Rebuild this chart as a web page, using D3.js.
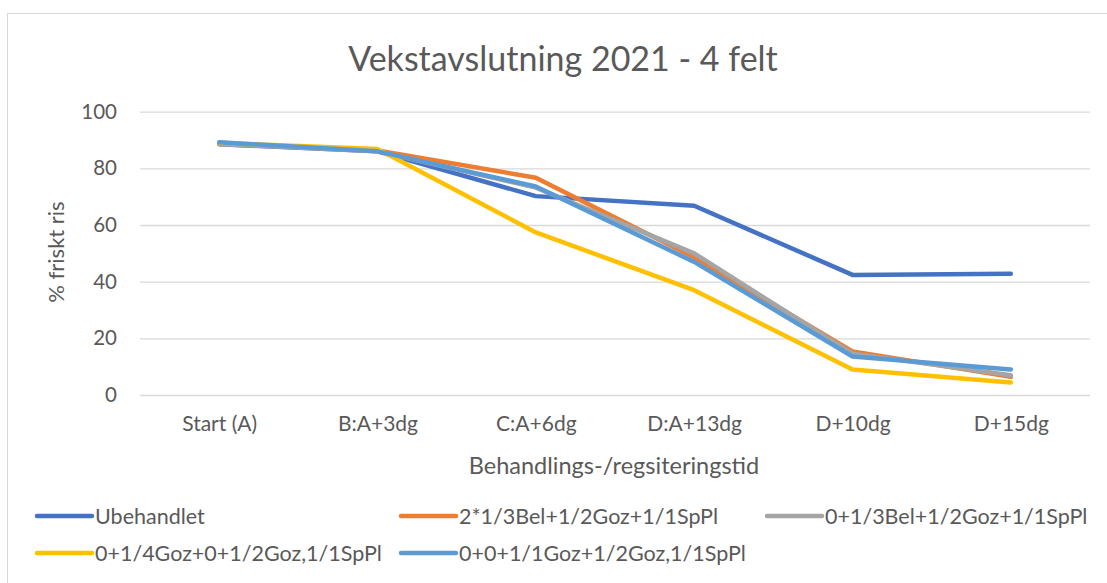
<!DOCTYPE html>
<html>
<head>
<meta charset="utf-8">
<script src="https://cdn.jsdelivr.net/npm/d3@7"></script>
<style>
  body { margin: 0; background: #fff; }
  text { font-family: Lato, "Open Sans", sans-serif; fill: #595959; }
</style>
</head>
<body>
<script>
const width = 1107;
const height = 583;

// categories (x axis)
const categories = ["Start (A)", "B:A+3dg", "C:A+6dg", "D:A+13dg", "D+10dg", "D+15dg"];

// series names, colours and values
const seriesNames = [
    "Ubehandlet",
    "2*1/3Bel+1/2Goz+1/1SpPl",
    "0+1/3Bel+1/2Goz+1/1SpPl",
    "0+1/4Goz+0+1/2Goz,1/1SpPl",
    "0+0+1/1Goz+1/2Goz,1/1SpPl"
];
const seriesColors = ["#4472C4", "#ED7D31", "#A5A5A5", "#FFC000", "#5B9BD5"];

const ubehandlet = [88.5, 86.0, 70.2, 66.8, 42.4, 42.8];
const bel2 = [88.8, 86.3, 76.7, 48.6, 15.4, 6.4];
const bel0 = [88.6, 86.0, 73.2, 50.0, 14.6, 7.0];
const goz4 = [89.0, 86.8, 57.4, 37.0, 9.0, 4.4];
const goz1 = [89.2, 86.0, 73.6, 47.0, 13.6, 9.0];

const seriesValues = [ubehandlet, bel2, bel0, goz4, goz1];

const yTicks = [0, 20, 40, 60, 80, 100];

const svg = d3.select("body").append("svg")
    .attr("width", width)
    .attr("height", height)
    .style("display", "block");

svg.append("rect")
    .attr("width", width).attr("height", height)
    .attr("fill", "#fff");

// chart border (runs off the right/bottom of the picture)
svg.append("rect")
    .attr("x", 7.5).attr("y", 13.5)
    .attr("width", width + 20).attr("height", height + 20)
    .attr("fill", "none")
    .attr("stroke", "#d9d9d9")
    .attr("stroke-width", 1);

const x = d3.scalePoint()
    .domain(categories)
    .range([140, 1090])
    .padding(0.5);

const y = d3.scaleLinear()
    .domain([0, 100])
    .range([395, 111.7]);

// title
svg.append("text")
    .attr("x", 563)
    .attr("y", 71)
    .attr("text-anchor", "middle")
    .style("font-size", "34px")
    .text("Vekstavslutning 2021 - 4 felt");

// gridlines + y labels
const yAxis = d3.axisLeft(y)
    .tickValues(yTicks)
    .tickSize(-(1090 - 140))
    .tickPadding(23);

const gy = svg.append("g")
    .attr("transform", "translate(140,0)")
    .call(yAxis);
gy.select(".domain").remove();
gy.selectAll(".tick line")
    .attr("stroke", "#d9d9d9")
    .attr("stroke-width", 1.3);
gy.selectAll(".tick text")
    .attr("font-family", null)
    .style("font-size", "20.5px");

// x labels
const xAxis = d3.axisBottom(x).tickSize(0).tickPadding(21);
const gx = svg.append("g")
    .attr("transform", "translate(0,395)")
    .call(xAxis);
gx.select(".domain").remove();
gx.selectAll(".tick text")
    .attr("font-family", null)
    .style("font-size", "21px");

// axis titles
svg.append("text")
    .attr("x", 614)
    .attr("y", 474)
    .attr("text-anchor", "middle")
    .style("font-size", "23.5px")
    .text("Behandlings-/regsiteringstid");

svg.append("text")
    .attr("transform", "translate(64,252) rotate(-90)")
    .attr("text-anchor", "middle")
    .style("font-size", "22px")
    .text("% friskt ris");

// lines
const line = d3.line()
    .x((d, i) => x(categories[i]))
    .y(d => y(d));

svg.append("g")
    .selectAll("path")
    .data(seriesValues)
    .join("path")
    .attr("d", line)
    .attr("fill", "none")
    .attr("stroke", (d, i) => seriesColors[i])
    .attr("stroke-width", 4.5)
    .attr("stroke-linejoin", "round")
    .attr("stroke-linecap", "round");

// legend
const legendPos = [[37, 516], [401, 516], [767, 516], [37, 553], [401, 553]];

const legend = svg.append("g")
    .selectAll("g")
    .data(seriesNames)
    .join("g")
    .attr("transform", (d, i) => `translate(${legendPos[i][0]},${legendPos[i][1]})`);

legend.append("line")
    .attr("x1", 0).attr("x2", 55)
    .attr("stroke", (d, i) => seriesColors[i])
    .attr("stroke-width", 4.5)
    .attr("stroke-linecap", "round");

legend.append("text")
    .attr("x", 58)
    .attr("dy", "0.35em")
    .style("font-size", "21.5px")
    .text(d => d);
</script>
</body>
</html>
